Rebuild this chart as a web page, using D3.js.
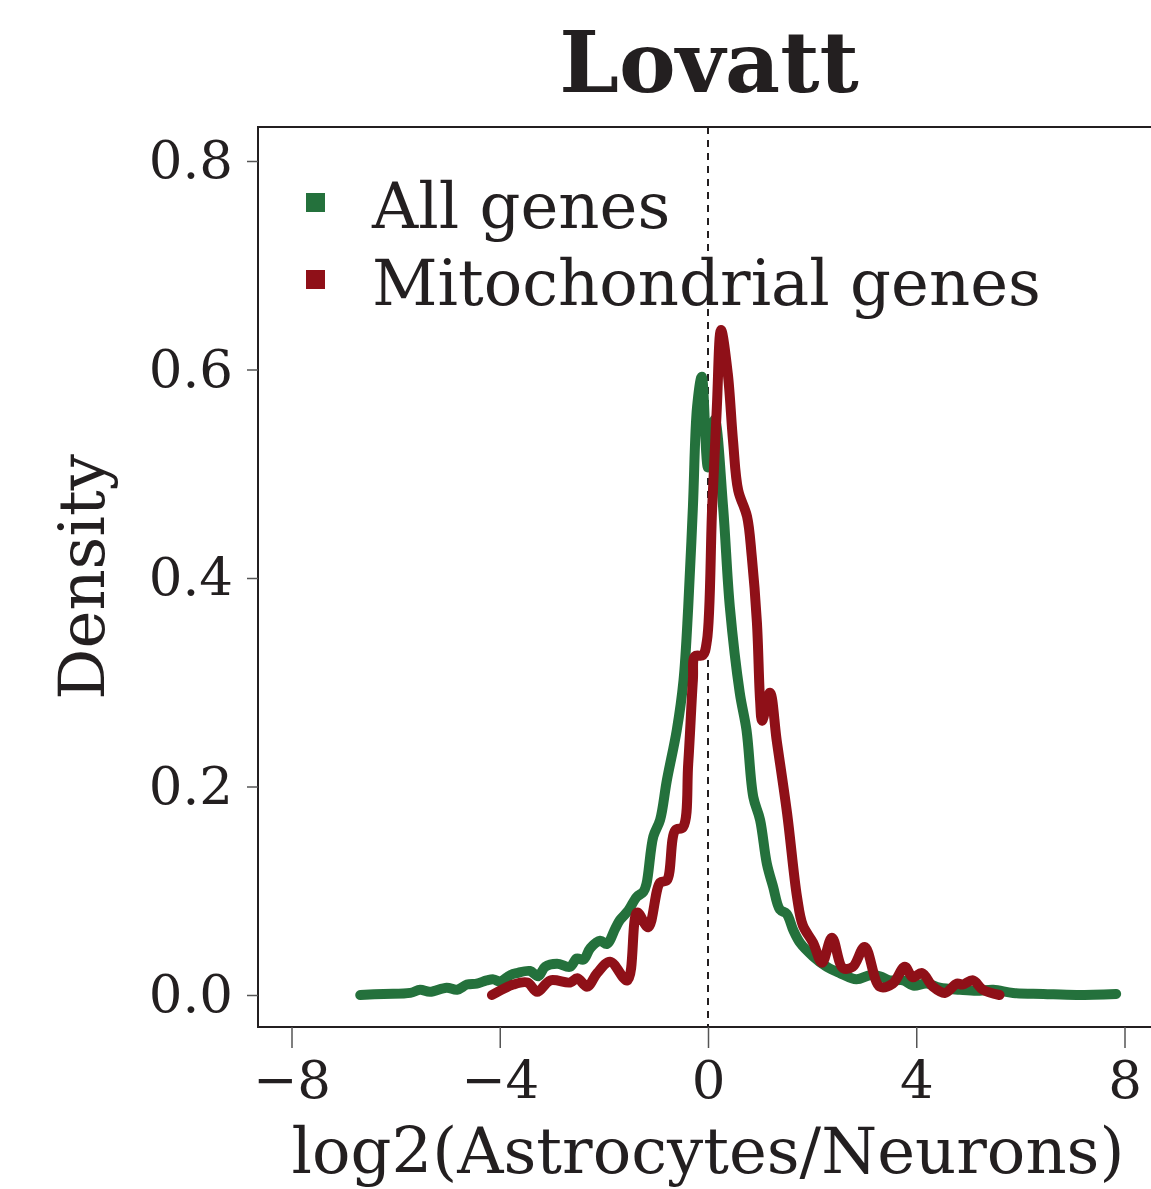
<!DOCTYPE html>
<html>
<head>
<meta charset="utf-8">
<script src="https://cdn.jsdelivr.net/npm/d3@7"></script>
<style>
  body { margin: 0; background: #fff; }
  svg { display: block; }
</style>
</head>
<body>
<svg id="chart" width="1151" height="1189"></svg>
<script>
const font = 'DejaVu Serif'
const textColor = '#231f20'
const greenColor = '#24713c'
const redColor = '#8f1018'

// All genes density (x = log2 ratio, y = density)
const allX = [-6.68, -6.23, -5.72, -5.53, -5.34, -5.02, -4.82, -4.63, -4.44, -4.25, -4.12, -3.99, -3.80, -3.67, -3.42, -3.26, -3.13, -2.90, -2.65, -2.52, -2.39, -2.26, -2.07, -1.94, -1.78, -1.69, -1.53, -1.37, -1.24, -1.18, -1.05, -0.92, -0.79, -0.60, -0.47, -0.38, -0.29, -0.21, -0.12, 0.0, 0.13, 0.29, 0.42, 0.61, 0.74, 0.87, 1.00, 1.13, 1.25, 1.38, 1.51, 1.64, 1.77, 2.02, 2.28, 2.53, 2.85, 3.11, 3.30, 3.49, 3.75, 3.94, 4.20, 4.45, 4.84, 5.16, 5.48, 5.86, 6.44, 7.08, 7.84]
const allY = [0.000, 0.001, 0.002, 0.005, 0.003, 0.007, 0.005, 0.010, 0.011, 0.014, 0.015, 0.013, 0.019, 0.021, 0.023, 0.018, 0.027, 0.030, 0.027, 0.035, 0.034, 0.045, 0.052, 0.049, 0.064, 0.072, 0.081, 0.094, 0.099, 0.107, 0.152, 0.168, 0.206, 0.254, 0.302, 0.372, 0.468, 0.564, 0.593, 0.506, 0.552, 0.468, 0.372, 0.290, 0.254, 0.190, 0.168, 0.126, 0.104, 0.082, 0.078, 0.062, 0.050, 0.037, 0.027, 0.021, 0.015, 0.019, 0.018, 0.014, 0.014, 0.009, 0.011, 0.007, 0.005, 0.004, 0.005, 0.002, 0.001, 0.000, 0.001]

// Mitochondrial genes density
const mitoX = [-4.15, -3.74, -3.47, -3.28, -3.03, -2.65, -2.51, -2.32, -2.13, -1.88, -1.55, -1.36, -1.15, -0.92, -0.79, -0.63, -0.48, -0.38, -0.29, -0.25, -0.10, -0.02, 0.08, 0.17, 0.25, 0.38, 0.48, 0.58, 0.75, 0.84, 0.94, 1.00, 1.04, 1.19, 1.32, 1.52, 1.71, 1.82, 2.02, 2.19, 2.38, 2.59, 2.78, 3.01, 3.30, 3.55, 3.78, 3.93, 4.11, 4.32, 4.55, 4.78, 4.89, 5.09, 5.28, 5.60]
const mitoY = [0.000, 0.010, 0.012, 0.003, 0.014, 0.012, 0.016, 0.008, 0.021, 0.032, 0.014, 0.079, 0.065, 0.108, 0.110, 0.158, 0.161, 0.222, 0.302, 0.325, 0.326, 0.340, 0.468, 0.564, 0.638, 0.596, 0.532, 0.484, 0.459, 0.421, 0.357, 0.283, 0.263, 0.290, 0.244, 0.174, 0.094, 0.067, 0.050, 0.031, 0.055, 0.026, 0.027, 0.046, 0.008, 0.011, 0.027, 0.017, 0.021, 0.008, 0.002, 0.011, 0.010, 0.014, 0.005, 0.000]

const xTicks = [-8, -4, 0, 4, 8]
const yTicks = [0.0, 0.2, 0.4, 0.6, 0.8]
const seriesNames = ['All genes', 'Mitochondrial genes']
const seriesColors = [greenColor, redColor]

const svg = d3.select('#chart')

const xScale = d3.scaleLinear().domain([-8, 8]).range([291.5, 1124.5])
const yScale = d3.scaleLinear().domain([0, 0.8]).range([995, 161])

const boxLeft = 258, boxTop = 127, boxBottom = 1027, boxRight = 1160

// plot box
svg.append('rect')
  .attr('x', boxLeft)
  .attr('y', boxTop)
  .attr('width', boxRight - boxLeft)
  .attr('height', boxBottom - boxTop)
  .attr('fill', 'none')
  .attr('stroke', textColor)
  .attr('stroke-width', 2)

// x axis
const xAxis = svg.append('g')
  .attr('transform', `translate(0, ${boxBottom})`)
  .call(d3.axisBottom(xScale).tickValues(xTicks).tickSize(21).tickPadding(12)
    .tickFormat(d => d < 0 ? '\u2212' + Math.abs(d) : d))
xAxis.select('.domain').remove()
xAxis.selectAll('line').attr('stroke', '#555').attr('stroke-width', 1.5)
xAxis.selectAll('text')
  .attr('font-family', font)
  .attr('font-size', 53)
  .attr('fill', textColor)

// y axis
const yAxis = svg.append('g')
  .attr('transform', `translate(${boxLeft}, 0)`)
  .call(d3.axisLeft(yScale).tickValues(yTicks).tickSize(11).tickPadding(14)
    .tickFormat(d3.format('.1f')))
yAxis.select('.domain').remove()
yAxis.selectAll('line').attr('stroke', '#555').attr('stroke-width', 1.5)
yAxis.selectAll('text')
  .attr('font-family', font)
  .attr('font-size', 53)
  .attr('fill', textColor)

// dashed zero line
svg.append('line')
  .attr('x1', xScale(0)).attr('x2', xScale(0))
  .attr('y1', boxTop).attr('y2', boxBottom)
  .attr('stroke', textColor)
  .attr('stroke-width', 2)
  .attr('stroke-dasharray', '7,6')

// density curves
const line = d3.line()
  .x(d => xScale(d[0]))
  .y(d => yScale(d[1]))
  .curve(d3.curveCatmullRom.alpha(0.5))

const series = [d3.zip(allX, allY), d3.zip(mitoX, mitoY)]

svg.append('g')
  .selectAll('path')
  .data(series)
  .enter()
  .append('path')
  .attr('d', line)
  .attr('fill', 'none')
  .attr('stroke', (d, i) => seriesColors[i])
  .attr('stroke-width', 10)
  .attr('stroke-linecap', 'round')
  .attr('stroke-linejoin', 'round')

// legend
const legend = svg.append('g')
  .selectAll('g')
  .data(seriesNames)
  .enter()
  .append('g')
  .attr('transform', (d, i) => `translate(306, ${203 + i * 77})`)

legend.append('rect')
  .attr('x', 0).attr('y', -10)
  .attr('width', 19).attr('height', 19)
  .attr('fill', (d, i) => seriesColors[i])

legend.append('text')
  .attr('x', 66)
  .attr('y', 25)
  .attr('font-family', font)
  .attr('font-size', 64)
  .attr('fill', textColor)
  .text(d => d)

// title
svg.append('text')
  .attr('x', 709)
  .attr('y', 92)
  .attr('text-anchor', 'middle')
  .attr('font-family', font)
  .attr('font-weight', 'bold')
  .attr('font-size', 85)
  .attr('fill', textColor)
  .text('Lovatt')

// axis titles
svg.append('text')
  .attr('x', 708)
  .attr('y', 1173)
  .attr('text-anchor', 'middle')
  .attr('font-family', font)
  .attr('font-size', 64)
  .attr('fill', textColor)
  .text('log2(Astrocytes/Neurons)')

svg.append('text')
  .attr('transform', `translate(104, ${(boxTop + boxBottom) / 2}) rotate(-90)`)
  .attr('text-anchor', 'middle')
  .attr('font-family', font)
  .attr('font-size', 64)
  .attr('fill', textColor)
  .text('Density')
</script>
</body>
</html>
